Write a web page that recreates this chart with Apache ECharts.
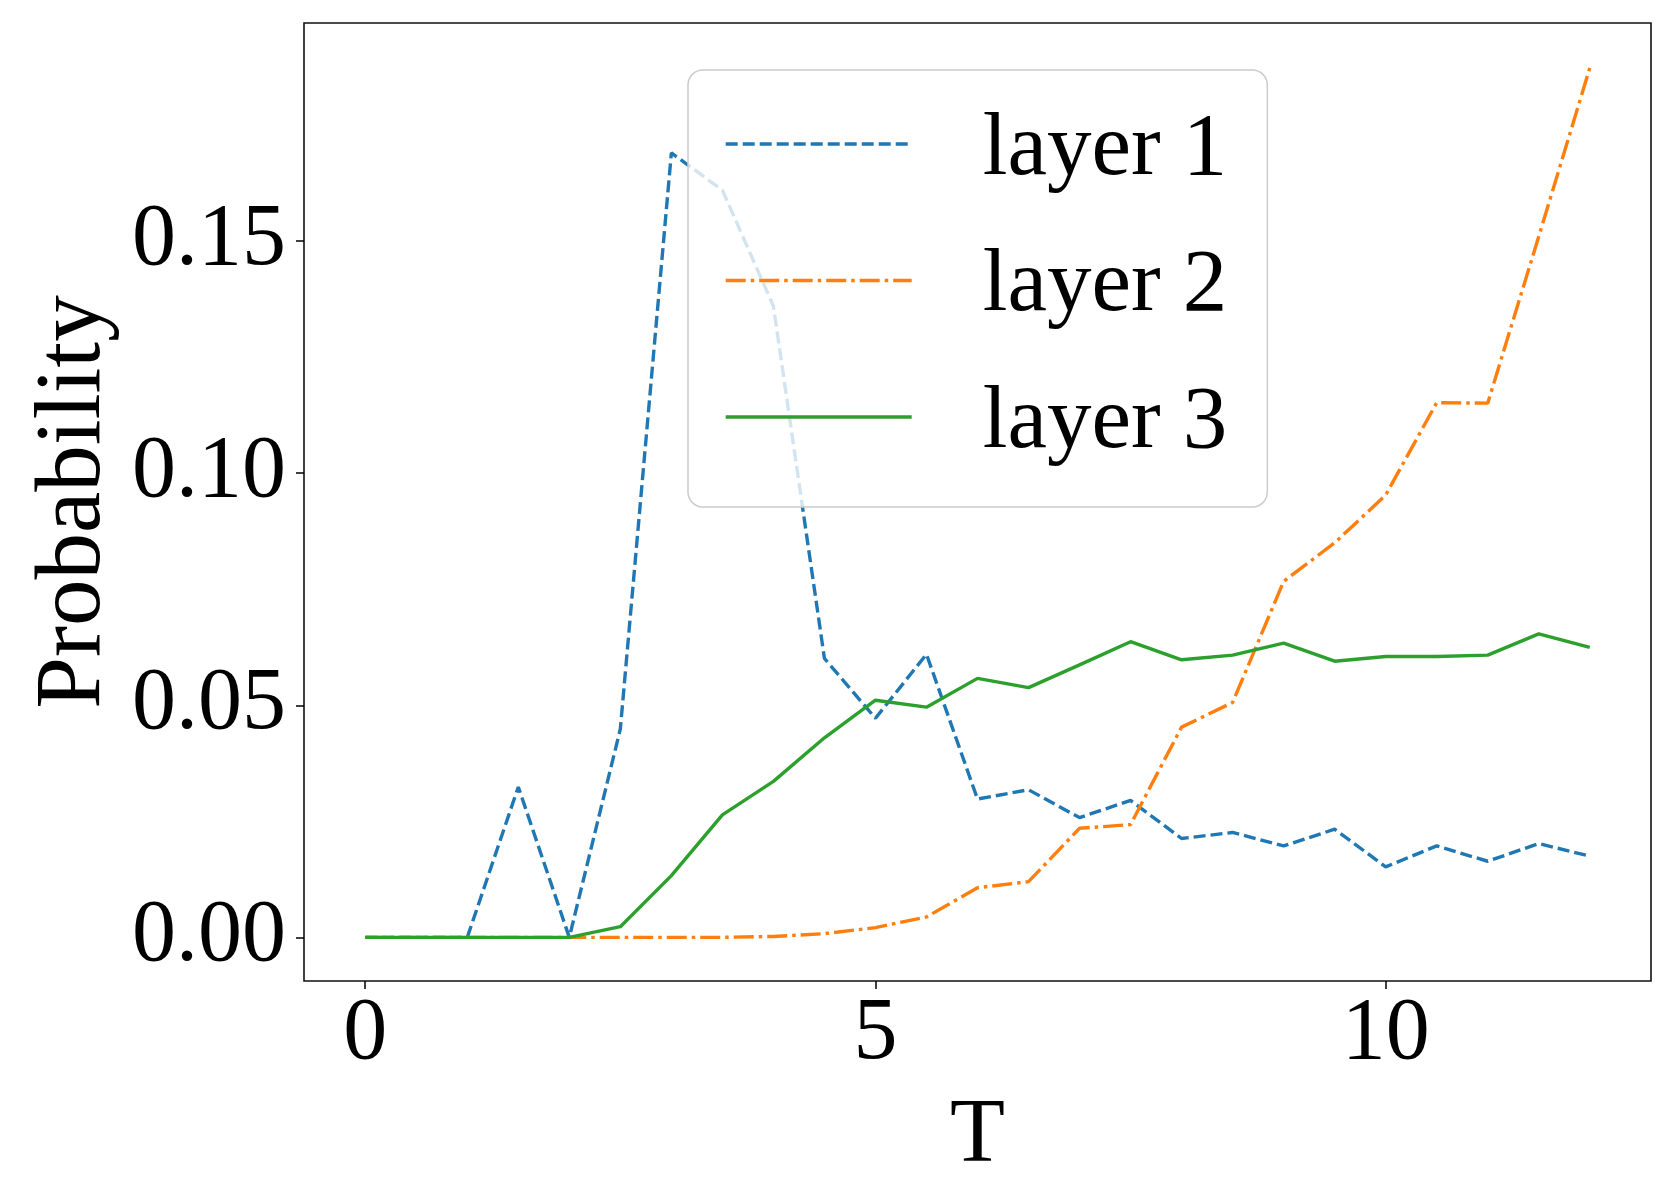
<!DOCTYPE html>
<html>
<head>
<meta charset="utf-8">
<script src="https://cdn.jsdelivr.net/npm/echarts@6/dist/echarts.min.js"></script>
<style>
html,body{margin:0;padding:0;background:#fff;}
#chart{width:1663px;height:1179px;}
</style>
</head>
<body>
<div id="chart"></div>
<script>
// ---- data ----
const T = [0,0.5,1,1.5,2,2.5,3,3.5,4,4.5,5,5.5,6,6.5,7,7.5,8,8.5,9,9.5,10,10.5,11,11.5,12];
const layer1 = [0,0,0,0.0324,0,0.0449,0.169,0.161,0.136,0.0601,0.0472,0.061,0.0298,0.0318,0.0258,0.0295,0.0213,0.0226,0.0197,0.0233,0.0152,0.0197,0.0164,0.0202,0.0175];
const layer2 = [0,0,0,0,0,0,0,0,0.0002,0.0008,0.0021,0.0044,0.0107,0.012,0.0235,0.0243,0.0453,0.0506,0.0767,0.085,0.0953,0.1152,0.1151,0.151,0.1873];
const layer3 = [0,0,0,0,0,0.0023,0.0133,0.0264,0.0336,0.043,0.0511,0.0496,0.0558,0.0538,0.0587,0.0637,0.0598,0.0608,0.0634,0.0595,0.0605,0.0605,0.0608,0.0654,0.0625];
const seriesNames = ['layer 1','layer 2','layer 3'];
const xTicks = [0,5,10];
const yTicks = [0,0.05,0.10,0.15];
const xName = 'T';
const yName = 'Probability';

const FONT = 'Liberation Serif';
const pairs = arr => T.map((t,i)=>[t,arr[i]]);

const chart = echarts.init(document.getElementById('chart'), null, {renderer:'canvas'});
chart.setOption({
  animation:false,
  backgroundColor:'#fff',
  grid:{left:304,right:12,top:23,bottom:198,outerBoundsMode:'none',containLabel:false,
        show:true,borderColor:'#111',borderWidth:1.6,backgroundColor:'transparent'},
  legend:{
    orient:'vertical',
    left:688, top:70,
    padding:[36,40,39,36],
    itemWidth:186, itemHeight:20, itemGap:47.5,
    backgroundColor:'rgba(255,255,255,0.8)',
    borderColor:'#cccccc', borderWidth:1.5, borderRadius:15,
    itemStyle:{opacity:0},
    lineStyle:{width:3.4},
    formatter: name => '{a|' + name + '}',
    textStyle:{fontFamily:FONT,fontSize:89,color:'#000',
      rich:{a:{fontFamily:FONT,fontSize:89,color:'#000',padding:[13,0,0,66]}}},
    data:seriesNames
  },
  xAxis:{
    type:'value', min:-0.6, max:12.6,
    name:xName, nameLocation:'middle', nameGap:111,
    nameTextStyle:{fontFamily:FONT,fontSize:90,color:'#000'},
    axisLine:{show:false,onZero:false},
    axisTick:{show:true,inside:false,length:8,customValues:xTicks,lineStyle:{color:'#000',width:1.5}},
    axisLabel:{customValues:xTicks,margin:10,fontFamily:FONT,fontSize:88,color:'#000'},
    splitLine:{show:false}
  },
  yAxis:{
    type:'value', min:-0.0094, max:0.1970,
    name:yName, nameLocation:'middle', nameGap:153, nameRotate:90,
    nameTextStyle:{fontFamily:FONT,fontSize:93,color:'#000'},
    axisLine:{show:false,onZero:false},
    axisTick:{show:true,inside:false,length:8,customValues:yTicks,lineStyle:{color:'#000',width:1.5}},
    axisLabel:{customValues:yTicks,margin:18,fontFamily:FONT,fontSize:88,color:'#000',formatter:v=>v.toFixed(2)},
    splitLine:{show:false}
  },
  series:[
    {name:seriesNames[0],type:'line',data:pairs(layer1),symbol:'none',
     lineStyle:{color:'#1f77b4',width:3.4,type:[12,5]},itemStyle:{color:'#1f77b4'}},
    {name:seriesNames[1],type:'line',data:pairs(layer2),symbol:'none',
     lineStyle:{color:'#ff7f0e',width:3.4,type:[20,5,3.5,5]},itemStyle:{color:'#ff7f0e'}},
    {name:seriesNames[2],type:'line',data:pairs(layer3),symbol:'none',
     lineStyle:{color:'#2ca02c',width:3.4,type:'solid'},itemStyle:{color:'#2ca02c'}}
  ]
});
</script>
</body>
</html>
